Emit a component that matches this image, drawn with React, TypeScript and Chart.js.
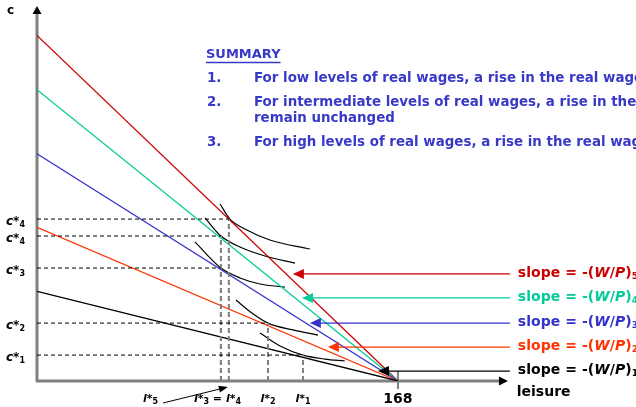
import React, { useEffect, useRef } from "react";
import { Chart, registerables } from "chart.js";
Chart.register(...registerables);

// ---- data ----
const totalHours = 168;
const wageIndex = ["1", "2", "3", "4", "5"];
const wages = [0.28, 0.48, 0.71, 0.91, 1.08]; // (W/P)1..5
const optLeisure = [123.8, 107.5, 85.6, 85.6, 89.3]; // l*1..l*5
const optCons = [13.6, 30.4, 59.3, 76.1, 85.0]; // c*1..c*5
const cStarSubs = ["1", "2", "3", "4", "4"];
const icLeisure = [
  [103.8, 113.1, 123.8, 134.0, 143.3],
  [92.6, 100.0, 107.5, 119.1, 130.8],
  [73.5, 85.6, 94.5, 103.8, 115.4],
  [78.2, 85.6, 94.5, 106.1, 120.1],
  [85.2, 89.8, 97.7, 108.4, 127.0],
];
const icCons = [
  [25.2, 18.4, 13.6, 11.5, 10.5],
  [42.5, 35.7, 30.4, 26.8, 24.1],
  [73.0, 59.3, 54.1, 50.9, 49.3],
  [85.6, 76.1, 70.3, 65.6, 61.9],
  [92.9, 85.0, 79.3, 74.0, 69.3],
];
const slopeLabelCons = [5.2, 17.8, 30.4, 43.6, 56.2];
const arrowTipLeisure = [158.7, 135.4, 127.0, 123.3, 119.1];
const summaryTitle = "SUMMARY";
const summaryItems = [
  ["1.", "For low levels of real wages, a rise in the real wage increases labour supply"],
  ["2.", "For intermediate levels of real wages, a rise in the real wage makes labour supply", "remain unchanged"],
  ["3.", "For high levels of real wages, a rise in the real wage reduces labour supply"],
];
const xAxisTitle = "leisure";
const yAxisTitle = "c";

// ---- styles ----
const lineColors = ["#000000", "#FF3300", "#3333CC", "#00CC99", "#CC0000"];
const summaryColor = "#3939C8";
const FONT = "'DejaVu Sans', Verdana, sans-serif";
const axisGray = "#808080";

type Part = { t: string; f: string; dy?: number };

function drawParts(ctx: CanvasRenderingContext2D, parts: Part[], x: number, y: number, color: string, align = "left", spacing = 0) {
  (ctx as any).letterSpacing = spacing + "px";
  let w = 0;
  for (const p of parts) {
    ctx.font = p.f;
    w += ctx.measureText(p.t).width;
  }
  let cx = align === "center" ? x - w / 2 : align === "right" ? x - w : x;
  ctx.fillStyle = color;
  ctx.textAlign = "left";
  ctx.textBaseline = "middle";
  for (const p of parts) {
    ctx.font = p.f;
    ctx.fillText(p.t, cx, y + (p.dy || 0));
    cx += ctx.measureText(p.t).width;
  }
  (ctx as any).letterSpacing = "0px";
  return w;
}

function arrowHead(ctx: CanvasRenderingContext2D, tx: number, ty: number, dx: number, dy: number, len: number, half: number, color: string) {
  const l = Math.hypot(dx, dy);
  const ux = dx / l, uy = dy / l;
  const bx = tx - ux * len, by = ty - uy * len;
  ctx.fillStyle = color;
  ctx.beginPath();
  ctx.moveTo(tx, ty);
  ctx.lineTo(bx - uy * half, by + ux * half);
  ctx.lineTo(bx + uy * half, by - ux * half);
  ctx.closePath();
  ctx.fill();
}

const diagramPlugin = {
  id: "diagram",
  beforeDatasetsDraw(chart: any) {
    const ctx: CanvasRenderingContext2D = chart.ctx;
    const xs = chart.scales.x, ys = chart.scales.y;
    const x0 = xs.getPixelForValue(0), y0 = ys.getPixelForValue(0);
    ctx.save();
    ctx.strokeStyle = axisGray;
    ctx.lineWidth = 3;
    ctx.beginPath();
    ctx.moveTo(x0, y0 + 1);
    ctx.lineTo(x0, ys.getPixelForValue(193.5));
    ctx.moveTo(x0 - 1, y0);
    ctx.lineTo(xs.getPixelForValue(216), y0);
    ctx.stroke();
    // tick at 168
    ctx.lineWidth = 2;
    const xt = xs.getPixelForValue(totalHours);
    ctx.beginPath();
    ctx.moveTo(xt, y0 - 10);
    ctx.lineTo(xt, y0 + 8);
    ctx.stroke();
    arrowHead(ctx, x0, ys.getPixelForValue(196.8), 0, -1, 8, 4.5, "#000");
    arrowHead(ctx, xs.getPixelForValue(219.2), y0, 1, 0, 9, 4.5, "#000");
    ctx.restore();
  },
  afterDatasetsDraw(chart: any) {
    const ctx: CanvasRenderingContext2D = chart.ctx;
    const xs = chart.scales.x, ys = chart.scales.y;
    const y0 = ys.getPixelForValue(0);
    ctx.save();
    // axis titles
    drawParts(ctx, [{ t: yAxisTitle, f: `bold 12px ${FONT}` }], 7, 11, "#000");
    drawParts(ctx, [{ t: xAxisTitle, f: `bold 14px ${FONT}` }], xs.getPixelForValue(223.3), y0 + 11, "#000");
    drawParts(ctx, [{ t: String(totalHours), f: `bold 14px ${FONT}` }], xs.getPixelForValue(totalHours), y0 + 18, "#000", "center");

    // c* labels
    for (let i = 0; i < optCons.length; i++) {
      const y = ys.getPixelForValue(optCons[i]) + 3;
      drawParts(ctx, [
        { t: "c", f: `italic bold 12px ${FONT}` },
        { t: "*", f: `bold 12px ${FONT}` },
        { t: cStarSubs[i], f: `bold 8px ${FONT}`, dy: 3 },
      ], 6, y, "#000");
    }

    // l* labels
    const ly = y0 + 18;
    const lp = (n: string): Part[] => [
      { t: "l", f: `italic bold 11px ${FONT}` },
      { t: "*", f: `bold 11px ${FONT}` },
      { t: n, f: `bold 8px ${FONT}`, dy: 3 },
    ];
    drawParts(ctx, lp("5"), 143, ly, "#000");
    drawParts(ctx, [...lp("3"), { t: " = ", f: `bold 11px ${FONT}` }, ...lp("4")], xs.getPixelForValue(optLeisure[2]) - 27, ly, "#000");
    drawParts(ctx, lp("2"), xs.getPixelForValue(optLeisure[1]), ly, "#000", "center");
    drawParts(ctx, lp("1"), xs.getPixelForValue(optLeisure[0]), ly, "#000", "center");
    // arrow from l*5 label
    const ax0 = 163, ay0 = y0 + 22;
    const ax1 = xs.getPixelForValue(optLeisure[4]) - 1, ay1 = y0 + 6;
    ctx.strokeStyle = "#000";
    ctx.lineWidth = 1;
    ctx.beginPath();
    ctx.moveTo(ax0, ay0);
    ctx.lineTo(ax1 - 6, ay1 + 1.5);
    ctx.stroke();
    arrowHead(ctx, ax1, ay1, ax1 - ax0, ay1 - ay0, 9, 3.5, "#000");

    // slope labels and arrows
    for (let i = 0; i < wages.length; i++) {
      const y = ys.getPixelForValue(slopeLabelCons[i]);
      const xStart = xs.getPixelForValue(220.1);
      const xTip = xs.getPixelForValue(arrowTipLeisure[i]);
      ctx.strokeStyle = lineColors[i];
      ctx.lineWidth = 1.3;
      ctx.beginPath();
      ctx.moveTo(xStart, y);
      ctx.lineTo(xTip + 8, y);
      ctx.stroke();
      arrowHead(ctx, xTip, y, -1, 0, 11, 5, lineColors[i]);
      drawParts(ctx, [
        { t: "slope = -(", f: `bold 14px ${FONT}` },
        { t: "W", f: `italic bold 14px ${FONT}` },
        { t: "/", f: `bold 14px ${FONT}` },
        { t: "P", f: `italic bold 14px ${FONT}` },
        { t: ")", f: `bold 14px ${FONT}` },
        { t: wageIndex[i], f: `bold 9px ${FONT}`, dy: 4 },
      ], xs.getPixelForValue(223.8), y - 1, lineColors[i], "left", 0.05);
    }

    // summary
    const tw = drawParts(ctx, [{ t: summaryTitle, f: `bold 13px ${FONT}` }], 206, 55, summaryColor);
    ctx.strokeStyle = summaryColor;
    ctx.lineWidth = 1.3;
    ctx.beginPath();
    ctx.moveTo(206, 62.5);
    ctx.lineTo(206 + tw, 62.5);
    ctx.stroke();
    const rows = [79, 103, 143];
    summaryItems.forEach((item, i) => {
      drawParts(ctx, [{ t: item[0], f: `bold 13.4px ${FONT}` }], 207, rows[i], summaryColor);
      drawParts(ctx, [{ t: item[1], f: `bold 13.4px ${FONT}` }], 254, rows[i], summaryColor);
      if (item[2]) drawParts(ctx, [{ t: item[2], f: `bold 13.4px ${FONT}` }], 254, rows[i] + 16, summaryColor);
    });
    ctx.restore();
  },
};

export default function App() {
  const ref = useRef<HTMLCanvasElement | null>(null);
  useEffect(() => {
    if (!ref.current) return;
    const datasets: any[] = [];
    // dashed guides
    for (let i = 0; i < optCons.length; i++) {
      datasets.push({
        data: [{ x: 0, y: optCons[i] }, { x: optLeisure[i], y: optCons[i] }],
        borderColor: "#000", borderWidth: 1, borderDash: [4, 3],
      });
      datasets.push({
        data: [{ x: optLeisure[i], y: 0 }, { x: optLeisure[i], y: optCons[i] }],
        borderColor: axisGray, borderWidth: 2, borderDash: [5, 3],
      });
    }
    // budget lines
    wages.forEach((w, i) => {
      datasets.push({
        data: [{ x: 0, y: w * totalHours }, { x: totalHours, y: 0 }],
        borderColor: lineColors[i], borderWidth: 1.3,
      });
    });
    // indifference curves
    icLeisure.forEach((ls, k) => {
      datasets.push({
        data: ls.map((l, j) => ({ x: l, y: icCons[k][j] })),
        borderColor: "#000", borderWidth: 1.2, cubicInterpolationMode: "monotone",
      });
    });
    datasets.forEach((d) => { d.showLine = true; d.pointRadius = 0; d.fill = false; });

    const chart = new Chart(ref.current, {
      type: "scatter",
      data: { datasets },
      options: {
        responsive: false,
        animation: false,
        events: [],
        layout: { padding: { left: 37, right: 0, top: 0, bottom: 26 } },
        plugins: { legend: { display: false }, tooltip: { enabled: false } },
        scales: {
          x: { type: "linear", min: 0, max: 278.8, display: false },
          y: { type: "linear", min: 0, max: 200, display: false },
        },
      },
      plugins: [diagramPlugin],
    } as any);
    return () => chart.destroy();
  }, []);
  return (
    <div style={{ position: "absolute", left: 0, top: 0, width: 636, height: 407, background: "#fff" }}>
      <canvas ref={ref} width={636} height={407} style={{ display: "block" }} />
    </div>
  );
}
